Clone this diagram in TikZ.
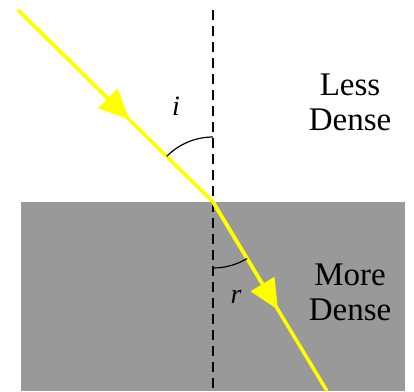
\documentclass[tikz,border=0pt]{standalone}
\usepackage{fontspec}
\setmainfont{Liberation Serif}
\usetikzlibrary{
  arrows.meta,
  calc
}
\definecolor{rayYellow}{HTML}{FFFF00}
\definecolor{denseGray}{HTML}{999999}
\tikzset{
  ray/.style={draw=rayYellow, line width=3.5pt},
  ray tip/.style={ray, -{Triangle[length=30pt,width=27pt]}},
  normal line/.style={draw=black, line width=1.4pt,
    dash pattern=on 10pt off 6pt},
  angle arc/.style={draw=black, line width=1.2pt},
  medium label/.style={align=center, text=black,
    font=\fontsize{33}{35}\selectfont},
  angle label/.style={text=black,
    font=\fontsize{28}{28}\selectfont\itshape}
}

\begin{document}
\begin{tikzpicture}[x=1pt, y=1pt]
    \useasboundingbox (0,0) rectangle (414,391);

    % Denser medium
    \fill[denseGray] (21,0) rectangle (405,189);

    % Points
    \coordinate (source) at (18,381);
    \coordinate (hit) at (213,189);
    \coordinate (exit) at (327,0);
    \coordinate (normTop) at (213,381);
    \coordinate (normBot) at (213,0);

    % Normal
    \draw[normal line] (normTop) -- (normBot);

    % Rays
    \draw[ray] (source) -- (hit) -- (exit);
    \draw[ray tip] (source) -- ($(source)!0.57!(hit)$);
    \draw[ray tip] (hit) -- ($(hit)!0.57!(exit)$);

    % Angles
    \draw[angle arc] (hit) ++(90:65) arc[start angle=90, end angle=135.4, radius=65];
    \draw[angle arc] (hit) ++(-90:66) arc[start angle=-90, end angle=-58.9, radius=66];
    \node[angle label] (incAngle) at (176,285) {i};
    \node[angle label] (refAngle) at (236,94) {r};

    % Media
    \node[medium label] (lessLabel) at (350,289) {Less\\Dense};
    \node[medium label] (moreLabel) at (350,99) {More\\Dense};
  \end{tikzpicture}
\end{document}
